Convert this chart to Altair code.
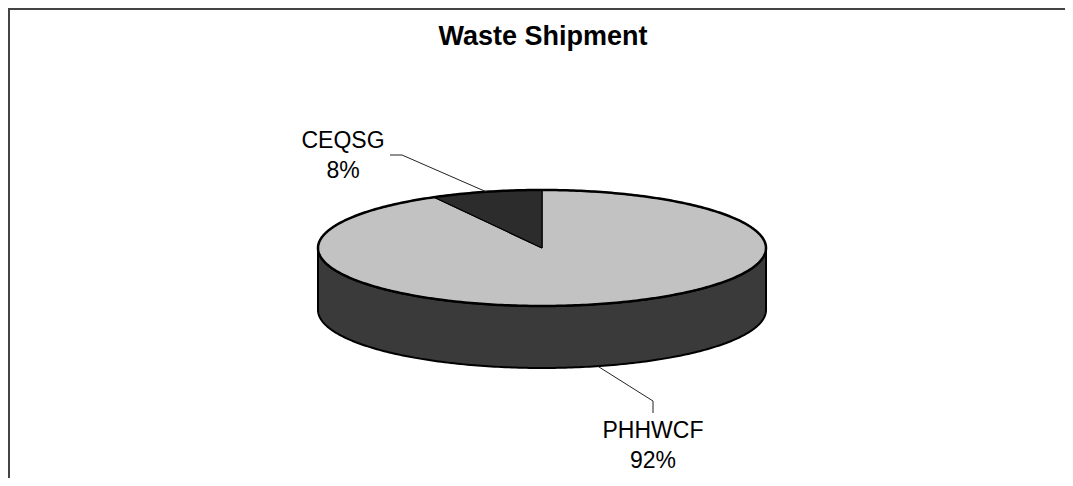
import numpy as np
import pandas as pd
import altair as alt

# ---- data ----
title_text = "Waste Shipment"
categories = ["PHHWCF", "CEQSG"]
shares = [92, 8]

# ---- layout / style (page pixel coordinates) ----
W, H = 1057, 470
CX, CY, RX, RY, DEPTH = 542, 248, 224, 58, 62
TOP_FILL = {"PHHWCF": "#c2c2c2", "CEQSG": "#2c2c2c"}
SIDE_FILL = "#3a3a3a"
FONT = "Liberation Sans"
label_pos = {"PHHWCF": (653, 438), "CEQSG": (343, 148)}
leader_pts = {"PHHWCF": [(653, 413), (653, 401)], "CEQSG": [(390, 155), (402, 155)]}


def ell(phi_deg, dy=0.0):
    p = np.radians(phi_deg)
    return CX + RX * np.sin(p), CY - RY * np.cos(p) + dy


# slice angles (clockwise from 12 o'clock)
total = float(sum(shares))
starts, ends = [], []
acc = 0.0
for v in shares:
    starts.append(acc)
    acc += 360.0 * v / total
    ends.append(acc)

# top face wedges
wedge_rows = []
for c, a0, a1 in zip(categories, starts, ends):
    pts = [(CX, CY)]
    for a in np.linspace(a0, a1, 200):
        pts.append(ell(a))
    pts.append((CX, CY))
    for i, (x, y) in enumerate(pts):
        wedge_rows.append({"shape": c, "i": i, "x": x, "y": y})
wedges = pd.DataFrame(wedge_rows)

# side wall (front half, 90..270 deg clockwise from top)
side = []
for a in np.linspace(90, 270, 200):
    side.append(ell(a))
for a in np.linspace(270, 90, 200):
    side.append(ell(a, DEPTH))
side.append(side[0])
side_df = pd.DataFrame([{"i": i, "x": x, "y": y} for i, (x, y) in enumerate(side)])

# ellipse outline
outline = [ell(a) for a in np.linspace(0, 360, 400)]
outline_df = pd.DataFrame([{"i": i, "x": x, "y": y} for i, (x, y) in enumerate(outline)])

# leaders and labels
lead_rows = []
text_rows = []
for c, v, a0, a1 in zip(categories, shares, starts, ends):
    mid = (a0 + a1) / 2
    front = 90 < mid < 270
    end = ell(mid, DEPTH if front else 0)
    pts = leader_pts[c] + [end]
    for i, (x, y) in enumerate(pts):
        lead_rows.append({"shape": c, "i": i, "x": x, "y": y})
    lx, ly = label_pos[c]
    text_rows.append({"x": lx, "y": ly, "t": c})
    text_rows.append({"x": lx, "y": ly + 30, "t": f"{v}%"})
leads = pd.DataFrame(lead_rows)
texts = pd.DataFrame(text_rows)

xs = alt.Scale(domain=[8, 8 + W], nice=False, zero=False)
ys = alt.Scale(domain=[8, 8 + H], nice=False, zero=False, reverse=True)
X = lambda: alt.X("x:Q", scale=xs, axis=None)
Y = lambda: alt.Y("y:Q", scale=ys, axis=None)

layers = []
layers.append(
    alt.Chart(side_df).mark_line(fill=SIDE_FILL, stroke="black", strokeWidth=2, strokeJoin="round")
    .encode(x=X(), y=Y(), order=alt.Order("i:Q"))
)
for c in categories:
    layers.append(
        alt.Chart(wedges[wedges["shape"] == c]).mark_line(
            fill=TOP_FILL[c], stroke="black", strokeWidth=1.2, strokeJoin="round")
        .encode(x=X(), y=Y(), order=alt.Order("i:Q"))
    )
layers.append(
    alt.Chart(outline_df).mark_line(stroke="black", strokeWidth=2.5)
    .encode(x=X(), y=Y(), order=alt.Order("i:Q"))
)
layers.append(
    alt.Chart(leads).mark_line(stroke="#222", strokeWidth=1)
    .encode(x=X(), y=Y(), detail="shape:N", order=alt.Order("i:Q"))
)
layers.append(
    alt.Chart(texts).mark_text(font=FONT, fontSize=23, align="center", baseline="alphabetic", color="black")
    .encode(x=X(), y=Y(), text="t:N")
)
layers.append(
    alt.Chart(pd.DataFrame({"x": [CX + 1], "y": [45], "t": [title_text]}))
    .mark_text(font=FONT, fontSize=27, fontWeight="bold", align="center", baseline="alphabetic", color="black")
    .encode(x=X(), y=Y(), text="t:N")
)
# frame (left and top edges)
layers.append(
    alt.Chart(pd.DataFrame({"x": [9], "y": [8], "y2": [8 + H]}))
    .mark_rule(color="#444", strokeWidth=2)
    .encode(x=X(), y=Y(), y2="y2:Q")
)
layers.append(
    alt.Chart(pd.DataFrame({"x": [8], "x2": [8 + W], "y": [9]}))
    .mark_rule(color="#444", strokeWidth=2)
    .encode(x=X(), x2="x2:Q", y=Y())
)

chart = alt.layer(*layers).properties(
    width=W, height=H, padding=0, autosize=alt.AutoSizeParams(type="none")
).configure_view(stroke=None)

chart.save("out.html", embed_options={"renderer": "svg", "actions": False})
